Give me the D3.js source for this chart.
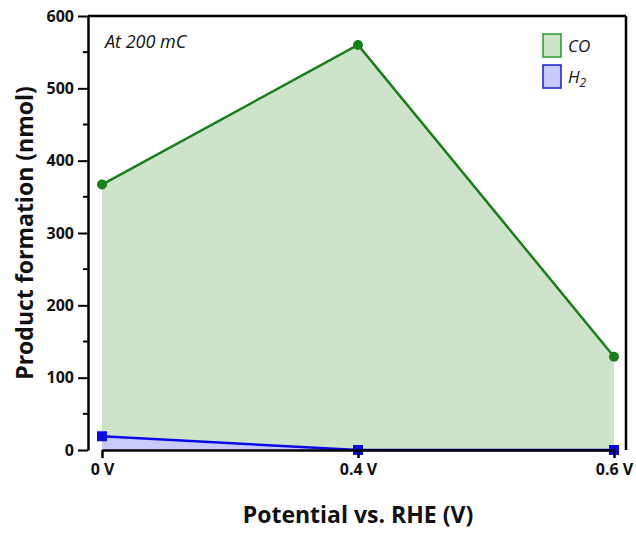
<!DOCTYPE html>
<html lang="en">
<head>
  <meta charset="UTF-8">
  <title>Product formation</title>
  <script src="https://d3js.org/d3.v7.min.js"></script>
  <style>
    body { margin: 0; background: #fff; font-family: "Open Sans", Arial, sans-serif; }
    .tick text { font-family: "Open Sans", sans-serif; font-weight: bold; font-size: 16px; fill: #111; }
  </style>
</head>
<body>
  <div id="chart"></div>
  <script>
    const potentials = ["0 V", "0.4 V", "0.6 V"];
    const coValues = [367, 560, 129];
    const h2Values = [19, 0, 0];
    const yTicks = [0, 100, 200, 300, 400, 500, 600];

    const W = 636, H = 536;
    const margin = {top: 16, right: 10, bottom: 86, left: 88};
    const width = W - margin.left - margin.right,
          height = H - margin.top - margin.bottom;

    const svg = d3.select("#chart").append("svg")
      .attr("width", W).attr("height", H)
      .append("g")
      .attr("transform", `translate(${margin.left},${margin.top})`);

    const x = d3.scalePoint().domain(potentials).range([14, width - 12]);
    const y = d3.scaleLinear().domain([0, 600]).range([height, 0]);

    const co = potentials.map((p, i) => ({p, v: coValues[i]}));
    const h2 = potentials.map((p, i) => ({p, v: h2Values[i]}));

    const area = d3.area().x(d => x(d.p)).y0(y(0)).y1(d => y(d.v));
    const line = d3.line().x(d => x(d.p)).y(d => y(d.v));

    svg.append("path").datum(co).attr("d", area).attr("fill", "#cde4cb");
    svg.append("path").datum(h2).attr("d", area).attr("fill", "#c9c9fb");
    svg.append("path").datum(co).attr("d", line)
      .attr("fill", "none").attr("stroke", "#188018").attr("stroke-width", 2.5);
    svg.append("path").datum(h2).attr("d", line)
      .attr("fill", "none").attr("stroke", "#0a0ae6").attr("stroke-width", 2.5);

    svg.selectAll(".co-dot").data(co).enter().append("circle")
      .attr("cx", d => x(d.p)).attr("cy", d => y(d.v)).attr("r", 5)
      .attr("fill", "#188018");
    svg.selectAll(".h2-dot").data(h2).enter().append("rect")
      .attr("x", d => x(d.p) - 5).attr("y", d => y(d.v) - 5)
      .attr("width", 10).attr("height", 10).attr("fill", "#0a0ae6");

    // frame
    svg.append("line").attr("x1", 0).attr("x2", width).attr("y1", 0).attr("y2", 0)
      .attr("stroke", "#000").attr("stroke-width", 2.5);
    svg.append("line").attr("x1", width).attr("x2", width).attr("y1", 0).attr("y2", height)
      .attr("stroke", "#000").attr("stroke-width", 2.5);

    // minor y ticks
    const minor = d3.range(50, 600, 100);
    svg.selectAll(".minor").data(minor).enter().append("line")
      .attr("x1", 0).attr("x2", -5).attr("y1", d => y(d)).attr("y2", d => y(d))
      .attr("stroke", "#000").attr("stroke-width", 2);

    const yAxis = svg.append("g")
      .call(d3.axisLeft(y).tickValues(yTicks).tickSize(10).tickSizeOuter(0).tickPadding(4));
    yAxis.select(".domain").attr("stroke-width", 2.5);
    yAxis.selectAll(".tick line").attr("stroke-width", 2);

    const xAxis = svg.append("g").attr("transform", `translate(0,${height})`)
      .call(d3.axisBottom(x).tickSize(8).tickSizeOuter(0).tickPadding(6));
    xAxis.select(".domain").attr("stroke-width", 2.5);
    xAxis.selectAll(".tick line").attr("stroke-width", 2.5);

    svg.append("text").attr("x", 17).attr("y", 32)
      .style("font-style", "italic").style("font-size", "18px").style("fill", "#111")
      .text("At 200 mC");

    // legend
    const legend = [
      {label: "CO", fill: "#cde4cb", stroke: "#2a9a2a"},
      {label: "H", sub: "2", fill: "#c9c9fb", stroke: "#1a1ad0"}
    ];
    const lg = svg.selectAll(".lg").data(legend).enter().append("g")
      .attr("transform", (d, i) => `translate(455,${18 + i * 31})`);
    lg.append("rect").attr("width", 18).attr("height", 23)
      .attr("fill", d => d.fill).attr("stroke", d => d.stroke).attr("stroke-width", 1.5);
    const lt = lg.append("text").attr("x", 25).attr("y", 18)
      .style("font-style", "italic").style("font-size", "17px").style("fill", "#111");
    lt.append("tspan").text(d => d.label);
    lt.filter(d => d.sub).append("tspan").attr("dy", 4).style("font-size", "12px").text(d => d.sub);

    svg.append("text")
      .attr("x", width / 2 + 1).attr("y", height + 73)
      .attr("text-anchor", "middle")
      .style("font-weight", "bold").style("font-size", "23px").style("fill", "#111")
      .text("Potential vs. RHE (V)");

    svg.append("text")
      .attr("transform", `translate(-55,${height / 2}) rotate(-90)`)
      .attr("text-anchor", "middle")
      .style("font-weight", "bold").style("font-size", "23px").style("fill", "#111")
      .text("Product formation (nmol)");
  </script>
</body>
</html>
